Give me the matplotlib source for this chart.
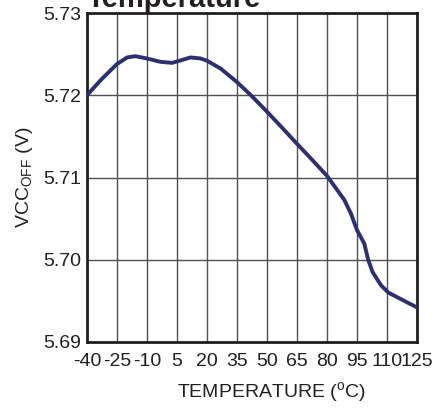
import matplotlib
matplotlib.use("Agg")
import matplotlib.pyplot as plt

plt.rcParams['font.family'] = ['Liberation Sans', 'DejaVu Sans']
plt.rcParams['mathtext.fontset'] = 'custom'
plt.rcParams['mathtext.rm'] = 'Liberation Sans'

# curve
temp = [-40, -33.3, -25, -19.9, -15.8, -10, -3.2, 2.6, 6, 11.8, 16.8, 20,
        26.8, 35, 42, 50, 57, 65, 72, 80, 88.6, 92, 95, 98.6, 100.6, 102.8,
        107, 110.7, 125]
vcc_off = [5.7200, 5.7218, 5.7238, 5.7246, 5.72475, 5.72447, 5.72406,
           5.72394, 5.72418, 5.7246, 5.72447, 5.7242, 5.72325, 5.7216,
           5.7200, 5.7180, 5.7162, 5.7141, 5.7123, 5.7102, 5.7073, 5.7056,
           5.7036, 5.7020, 5.7000, 5.6985, 5.6969, 5.6960, 5.6942]

xticks = [-40, -25, -10, 5, 20, 35, 50, 65, 80, 95, 110, 125]
yticks = [5.69, 5.70, 5.71, 5.72, 5.73]
ytick_labels = ['5.69', '5.70', '5.71', '5.72', '5.73']

fig = plt.figure(figsize=(4.4, 4.08), dpi=100)
ax = fig.add_axes([0.1977, 0.1618, 0.7500, 0.8063])

ax.plot(temp, vcc_off, color='#2d3070', lw=2.8, solid_capstyle='round',
        solid_joinstyle='round', zorder=3)

ax.set_xlim(-40, 125)
ax.set_ylim(5.69, 5.73)
ax.set_xticks(xticks)
ax.set_xticklabels([str(t) for t in xticks])
ax.set_yticks(yticks)
ax.set_yticklabels(ytick_labels)
ax.tick_params(length=0, labelsize=14, colors='#231f20')
ax.tick_params(axis='x', pad=8)
ax.tick_params(axis='y', pad=4)
ax.grid(True, color='#505050', lw=1.0)
for s in ax.spines.values():
    s.set_linewidth(2.0)
    s.set_color('#231f20')

ax.set_ylabel('VCC$_{\\mathrm{OFF}}$ (V)', fontsize=14, color='#231f20', labelpad=6)
ax.set_xlabel('TEMPERATURE ($^{\\mathrm{o}}$C)', fontsize=14, color='#231f20',
              labelpad=4)
ax.xaxis.set_label_coords(0.56, -0.115)

# title is partly cut off at the top edge, as in the reference
fig.text(0.198, 0.983, 'Temperature', fontsize=21, fontweight='bold',
         ha='left', va='baseline', color='#231f20')

fig.savefig('out.png', dpi=100)
